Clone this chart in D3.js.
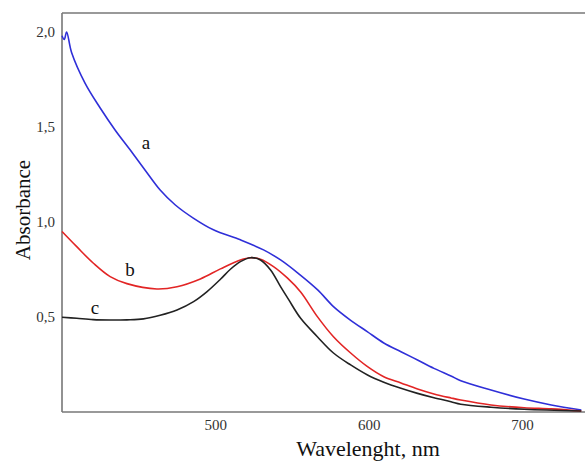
<!DOCTYPE html>
<html>
<head>
<meta charset="utf-8">
<script src="https://cdn.jsdelivr.net/npm/d3@7"></script>
<style>
html,body{margin:0;padding:0;background:#fff;}
svg{display:block;}
</style>
</head>
<body>
<svg id="chart" width="585" height="468"></svg>
<script>
// Wavelength (nm) and absorbance readings for each curve
const wlA = [400,401.5,403,406.3,415,424.8,434.6,444.4,454.1,464,473.9,485.6,498.7,516.3,531.4,542.5,553.6,566.7,577,588,599,609.8,621,631.8,642.5,653.6,660,679.7,701.3,719,738.6];
const absA = [1.98,1.96,2.00,1.89,1.73,1.60,1.483,1.378,1.272,1.166,1.087,1.018,0.956,0.903,0.850,0.797,0.729,0.639,0.551,0.480,0.419,0.359,0.313,0.269,0.225,0.185,0.160,0.111,0.063,0.032,0.005];

const wlB = [400,409.6,420.3,431.4,442.3,461.9,475,490.2,503.3,516.3,522.9,529.4,537.9,546.9,555.6,566.5,577,588.2,599.2,609.8,621,631.8,642.5,653.6,660,679.7,701.3,719,738.6];
const absB = [0.947,0.867,0.781,0.709,0.672,0.644,0.656,0.697,0.750,0.797,0.809,0.801,0.762,0.702,0.628,0.498,0.392,0.306,0.234,0.181,0.148,0.116,0.090,0.069,0.058,0.032,0.017,0.011,0.0];

const wlC = [400,409.6,420.3,431.4,442.3,453.1,464,475,485.8,494.6,503.3,509.8,516.3,522.9,529.4,536,542.5,547.9,555.6,566.5,577,588.2,599.2,609.8,621,631.8,642.5,653.6,660,679.7,701.3,738.6];
const absC = [0.495,0.489,0.482,0.480,0.481,0.486,0.505,0.533,0.577,0.630,0.695,0.748,0.788,0.809,0.797,0.744,0.656,0.586,0.489,0.392,0.306,0.243,0.190,0.152,0.120,0.093,0.070,0.049,0.036,0.020,0.009,0.0];

const seriesNames = ["a","b","c"];
const seriesColors = ["#2f2fd8","#e22525","#222222"];
const curveLabelPos = [[454.8,1.383],[444.3,0.712],[421.5,0.514]]; // [nm, absorbance] anchor for curve letters

const xTicks = [500,600,700];
const yTicks = [0.5,1.0,1.5,2.0];

const svg = d3.select("#chart");
const L = 62, R = 585, T = 13, B = 411;

const x = d3.scaleLinear().domain([400, 741]).range([L, R]);
const y = d3.scaleLinear().domain([0, 2.1]).range([B, T]);

const locale = d3.formatLocale({decimal: ",", thousands: " ", grouping: [3], currency: ["", ""]});
const fmt = locale.format(".1f");

// frame
svg.append("line").attr("x1", L).attr("x2", L).attr("y1", T).attr("y2", B + 1)
  .attr("stroke", "#777").attr("stroke-width", 1.6);
svg.append("line").attr("x1", L).attr("x2", R).attr("y1", T).attr("y2", T)
  .attr("stroke", "#777").attr("stroke-width", 1.6);
svg.append("line").attr("x1", L).attr("x2", R).attr("y1", B + 1).attr("y2", B + 1)
  .attr("stroke", "#777").attr("stroke-width", 1.6);

// axes (labels only)
const xAxis = svg.append("g").attr("transform", `translate(0,${B + 5})`)
  .call(d3.axisBottom(x).tickValues(xTicks).tickSize(0).tickFormat(d3.format("d")));
xAxis.select(".domain").remove();
xAxis.selectAll("text").attr("font-family", "'Liberation Serif', 'Times New Roman', serif")
  .attr("font-size", 15).attr("fill", "#333");

const yAxis = svg.append("g").attr("transform", `translate(${L - 4},0)`)
  .call(d3.axisLeft(y).tickValues(yTicks).tickSize(0).tickFormat(fmt));
yAxis.select(".domain").remove();
yAxis.selectAll("text").attr("font-family", "'Liberation Serif', 'Times New Roman', serif")
  .attr("font-size", 15).attr("fill", "#333");

// curves
const datasets = [
  d3.zip(wlA, absA),
  d3.zip(wlB, absB),
  d3.zip(wlC, absC)
];
const line = d3.line().x(d => x(d[0])).y(d => y(d[1])).curve(d3.curveCatmullRom.alpha(0.5));

datasets.forEach((ds, i) => {
  svg.append("path").datum(ds)
    .attr("d", line)
    .attr("fill", "none")
    .attr("stroke", seriesColors[i])
    .attr("stroke-width", 1.6)
    .attr("stroke-linejoin", "round");
});

// curve letters
seriesNames.forEach((n, i) => {
  svg.append("text")
    .attr("x", x(curveLabelPos[i][0]))
    .attr("y", y(curveLabelPos[i][1]))
    .attr("text-anchor", "middle")
    .attr("font-family", "'Liberation Serif', 'Times New Roman', serif")
    .attr("font-size", 19)
    .attr("fill", "#111")
    .text(n);
});

// axis titles
svg.append("text")
  .attr("transform", `translate(30,210) rotate(-90)`)
  .attr("text-anchor", "middle")
  .attr("font-family", "'Liberation Serif', 'Times New Roman', serif")
  .attr("font-size", 21)
  .attr("fill", "#111")
  .text("Absorbance");

svg.append("text")
  .attr("x", 368).attr("y", 456)
  .attr("text-anchor", "middle")
  .attr("font-family", "'Liberation Serif', 'Times New Roman', serif")
  .attr("font-size", 22)
  .attr("fill", "#111")
  .text("Wavelenght, nm");
</script>
</body>
</html>
